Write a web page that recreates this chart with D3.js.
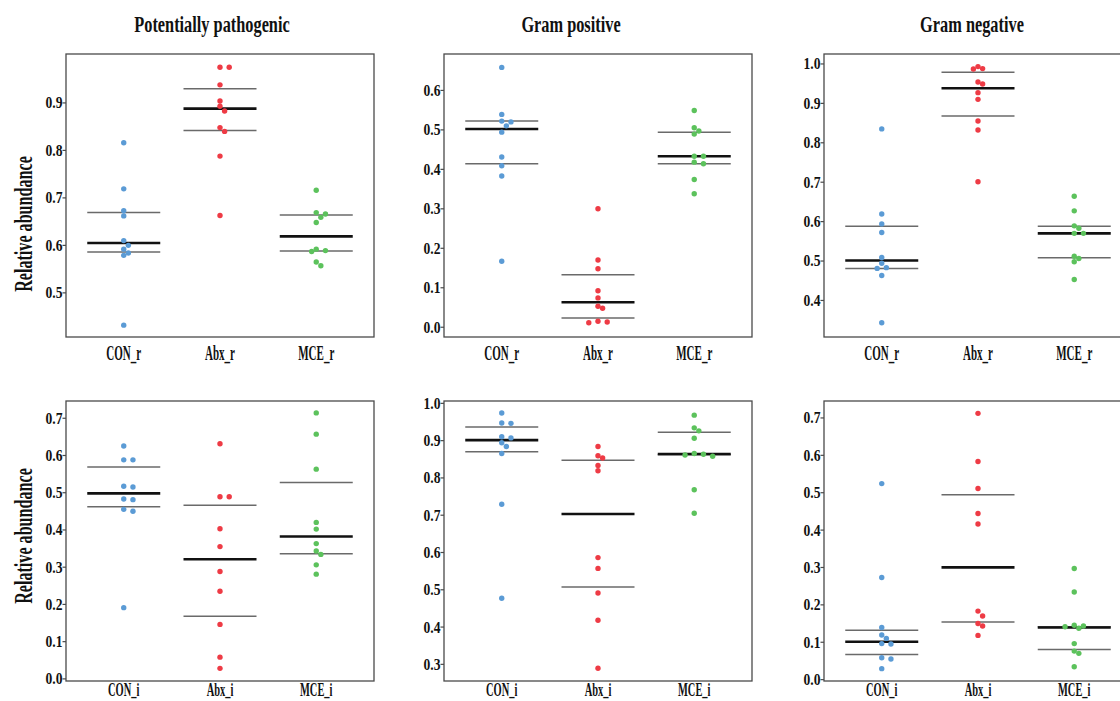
<!DOCTYPE html>
<html>
<head>
<meta charset="utf-8">
<script src="https://cdn.jsdelivr.net/npm/d3@7"></script>
<style>
  html, body { margin: 0; padding: 0; background: #fff; }
  svg { display: block; }
  text { font-family: "Liberation Serif", "Times New Roman", serif; font-weight: bold; fill: #111; }
</style>
</head>
<body>
<script>
// ---------------- DATA ----------------
const titles = ["Potentially pathogenic", "Gram positive", "Gram negative"];
const yTitle = "Relative abundance";
const groupsR = ["CON_r", "Abx_r", "MCE_r"];
const groupsI = ["CON_i", "Abx_i", "MCE_i"];

// Potentially pathogenic, r
const pathR = [
  [0.815, 0.718, 0.672, 0.661, 0.609, 0.599, 0.591, 0.583, 0.578, 0.431],
  [0.974, 0.974, 0.937, 0.903, 0.892, 0.882, 0.847, 0.839, 0.787, 0.662],
  [0.715, 0.668, 0.665, 0.658, 0.647, 0.591, 0.588, 0.586, 0.564, 0.556]
];
const pathRMedian = [0.604, 0.887, 0.618];
const pathRQ1 = [0.585, 0.841, 0.587];
const pathRQ3 = [0.668, 0.929, 0.663];
const pathRTicks = [0.5, 0.6, 0.7, 0.8, 0.9];
const pathRDomain = [0.406, 1.002];

// Gram positive, r
const posR = [
  [0.657, 0.538, 0.521, 0.519, 0.509, 0.493, 0.430, 0.408, 0.382, 0.166],
  [0.299, 0.169, 0.147, 0.091, 0.073, 0.052, 0.047, 0.014, 0.012, 0.010],
  [0.548, 0.504, 0.496, 0.488, 0.432, 0.432, 0.417, 0.413, 0.373, 0.337]
];
const posRMedian = [0.501, 0.062, 0.432];
const posRQ1 = [0.413, 0.022, 0.413];
const posRQ3 = [0.521, 0.132, 0.493];
const posRTicks = [0.0, 0.1, 0.2, 0.3, 0.4, 0.5, 0.6];
const posRDomain = [-0.026, 0.691];

// Gram negative, r
const negR = [
  [0.834, 0.618, 0.593, 0.571, 0.508, 0.493, 0.482, 0.480, 0.462, 0.342],
  [0.992, 0.987, 0.986, 0.953, 0.948, 0.926, 0.909, 0.854, 0.831, 0.700],
  [0.663, 0.626, 0.588, 0.582, 0.569, 0.569, 0.511, 0.505, 0.497, 0.452]
];
const negRMedian = [0.500, 0.937, 0.569];
const negRQ1 = [0.480, 0.867, 0.507];
const negRQ3 = [0.587, 0.978, 0.587];
const negRTicks = [0.4, 0.5, 0.6, 0.7, 0.8, 0.9, 1.0];
const negRDomain = [0.306, 1.024];

// Potentially pathogenic, i
const pathI = [
  [0.624, 0.587, 0.587, 0.516, 0.514, 0.482, 0.480, 0.454, 0.449, 0.190],
  [0.630, 0.488, 0.488, 0.402, 0.354, 0.287, 0.234, 0.145, 0.057, 0.027],
  [0.713, 0.656, 0.562, 0.419, 0.401, 0.362, 0.342, 0.333, 0.305, 0.280]
];
const pathIMedian = [0.497, 0.320, 0.381];
const pathIQ1 = [0.461, 0.167, 0.335];
const pathIQ3 = [0.568, 0.465, 0.526];
const pathITicks = [0.0, 0.1, 0.2, 0.3, 0.4, 0.5, 0.6, 0.7];
const pathIDomain = [-0.007, 0.745];

// Gram positive, i
const posI = [
  [0.973, 0.946, 0.945, 0.909, 0.906, 0.893, 0.883, 0.864, 0.728, 0.476],
  [0.883, 0.858, 0.852, 0.832, 0.818, 0.585, 0.556, 0.490, 0.417, 0.288],
  [0.967, 0.933, 0.925, 0.905, 0.864, 0.862, 0.860, 0.857, 0.767, 0.704]
];
const posIMedian = [0.900, 0.702, 0.863];
const posIQ1 = [0.869, 0.506, 0.861];
const posIQ3 = [0.935, 0.846, 0.921];
const posITicks = [0.3, 0.4, 0.5, 0.6, 0.7, 0.8, 0.9, 1.0];
const posIDomain = [0.254, 1.005];

// Gram negative, i
const negI = [
  [0.523, 0.272, 0.138, 0.118, 0.109, 0.095, 0.094, 0.057, 0.054, 0.028],
  [0.711, 0.582, 0.510, 0.443, 0.415, 0.182, 0.169, 0.149, 0.142, 0.117],
  [0.296, 0.233, 0.144, 0.142, 0.140, 0.136, 0.095, 0.075, 0.069, 0.033]
];
const negIMedian = [0.100, 0.299, 0.138];
const negIQ1 = [0.066, 0.153, 0.079];
const negIQ3 = [0.131, 0.493, 0.140];
const negITicks = [0.0, 0.1, 0.2, 0.3, 0.4, 0.5, 0.6, 0.7];
const negIDomain = [-0.005, 0.744];

// ---------------- LAYOUT / STYLE ----------------
const W = 1120, H = 701;
const colors = ["#5b9bd5", "#ee3b45", "#5cc25c"];
const colLeft = [66, 444, 824];
const panelW = 308;
const rowTop = [54, 401];
const rowBottom = [337, 681];
const titleX = [212, 571, 972];
const yTitleY = [224, 536];
const labelBaseline = [360, 696];
const labelSize = [20, 19];
const halfLine = 36.5;
const dotR = 2.7;

const panels = [
  { data: pathR, med: pathRMedian, q1: pathRQ1, q3: pathRQ3, ticks: pathRTicks, dom: pathRDomain, groups: groupsR, col: 0, row: 0 },
  { data: posR,  med: posRMedian,  q1: posRQ1,  q3: posRQ3,  ticks: posRTicks,  dom: posRDomain,  groups: groupsR, col: 1, row: 0 },
  { data: negR,  med: negRMedian,  q1: negRQ1,  q3: negRQ3,  ticks: negRTicks,  dom: negRDomain,  groups: groupsR, col: 2, row: 0 },
  { data: pathI, med: pathIMedian, q1: pathIQ1, q3: pathIQ3, ticks: pathITicks, dom: pathIDomain, groups: groupsI, col: 0, row: 1 },
  { data: posI,  med: posIMedian,  q1: posIQ1,  q3: posIQ3,  ticks: posITicks,  dom: posIDomain,  groups: groupsI, col: 1, row: 1 },
  { data: negI,  med: negIMedian,  q1: negIQ1,  q3: negIQ3,  ticks: negITicks,  dom: negIDomain,  groups: groupsI, col: 2, row: 1 }
];

const svg = d3.select("body").append("svg")
  .attr("width", W).attr("height", H)
  .attr("viewBox", `0 0 ${W} ${H}`);
svg.append("rect").attr("width", W).attr("height", H).attr("fill", "#fff");

// simple dodge (beeswarm) for overlapping dots
function dodge(values, y, step) {
  const pts = values.map(v => ({ v, y: y(v), dx: 0 })).sort((a, b) => a.y - b.y);
  const placed = [];
  for (const p of pts) {
    for (let k = 0; k < 30; k++) {
      const off = k === 0 ? 0 : (k % 2 ? 1 : -1) * Math.ceil(k / 2) * step;
      if (placed.every(q => Math.hypot(q.dx - off, q.y - p.y) >= 2 * dotR - 0.4)) { p.dx = off; break; }
    }
    placed.push(p);
  }
  return pts;
}

// titles
svg.selectAll("text.title").data(titles).join("text")
  .attr("class", "title")
  .attr("text-anchor", "middle")
  .attr("font-size", 24)
  .attr("transform", (d, i) => `translate(${titleX[i]},32) scale(0.68,1)`)
  .text(d => d);

// y titles
svg.selectAll("text.ytitle").data(yTitleY).join("text")
  .attr("class", "ytitle")
  .attr("text-anchor", "middle")
  .attr("font-size", 26)
  .attr("transform", d => `translate(31.5,${d}) rotate(-90) scale(0.62,1)`)
  .text(yTitle);

panels.forEach(p => {
  const x0 = colLeft[p.col], x1 = x0 + panelW;
  const y0 = rowTop[p.row], y1 = rowBottom[p.row];
  const x = d3.scalePoint().domain(p.groups).range([x0, x1]).padding(0.6);
  const y = d3.scaleLinear().domain(p.dom).range([y1, y0]);
  const g = svg.append("g");

  // frame
  g.append("rect")
    .attr("x", x0).attr("y", y0).attr("width", x1 - x0).attr("height", y1 - y0)
    .attr("fill", "none").attr("stroke", "#4a4a4a").attr("stroke-width", 1.3);

  // y axis
  const ax = g.append("g").attr("transform", `translate(${x0},0)`)
    .call(d3.axisLeft(y).tickValues(p.ticks).tickFormat(d3.format(".1f")).tickSize(3.5).tickPadding(1));
  ax.select(".domain").remove();
  ax.selectAll(".tick line").attr("stroke", "#4a4a4a").attr("stroke-width", 1.2);
  ax.selectAll(".tick text")
    .attr("x", null)
    .attr("font-size", 17)
    .attr("font-family", "Liberation Serif, serif")
    .attr("font-weight", "bold")
    .attr("fill", "#111")
    .attr("transform", "translate(-3.5,0) scale(0.8,1)");

  // x labels
  g.selectAll("text.xl").data(p.groups).join("text")
    .attr("class", "xl")
    .attr("text-anchor", "middle")
    .attr("font-size", labelSize[p.row])
    .attr("transform", d => `translate(${x(d)},${labelBaseline[p.row]}) scale(0.55,1)`)
    .text(d => d);

  p.groups.forEach((grp, i) => {
    const cx = x(grp);
    // quartile lines
    [p.q1[i], p.q3[i]].forEach(q => {
      g.append("line")
        .attr("x1", cx - halfLine).attr("x2", cx + halfLine)
        .attr("y1", y(q)).attr("y2", y(q))
        .attr("stroke", "#6a6a6a").attr("stroke-width", 1.5);
    });
    // median
    g.append("line")
      .attr("x1", cx - halfLine).attr("x2", cx + halfLine)
      .attr("y1", y(p.med[i])).attr("y2", y(p.med[i]))
      .attr("stroke", "#111").attr("stroke-width", 2.6);
    // dots
    const pts = dodge(p.data[i], y, 4.6);
    g.selectAll(null).data(pts).join("circle")
      .attr("cx", d => cx + d.dx)
      .attr("cy", d => d.y)
      .attr("r", dotR)
      .attr("fill", colors[i]);
  });
});
</script>
</body>
</html>
